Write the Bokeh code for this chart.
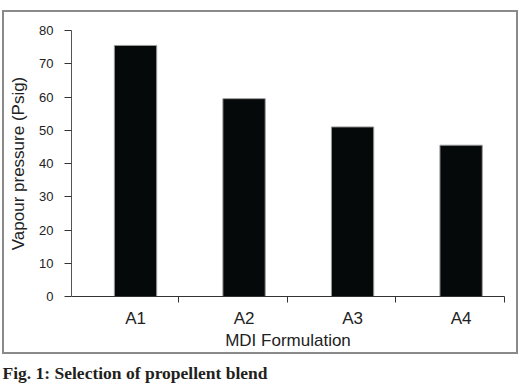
from bokeh.plotting import figure
from bokeh.models import ColumnDataSource, FixedTicker, Title
from bokeh.embed import file_html
from bokeh.resources import INLINE

# ---- data ----
categories = ["A1", "A2", "A3", "A4"]
pressure = [75.5, 59.5, 51.0, 45.5]
y_ticks = [0, 10, 20, 30, 40, 50, 60, 70, 80]
x_title = "MDI Formulation"
y_title = "Vapour pressure (Psig)"
caption = "Fig. 1: Selection of propellent blend"

positions = list(range(1, len(categories) + 1))
between = [p + 0.4 for p in positions]

src = ColumnDataSource(dict(x=positions, top=pressure, cat=categories))

FONT = "Liberation Sans"
TXT = "#222222"
GREY = "#8a8a8a"

# grey panel frame around the chart (drawn as the page element's background)
g = f"linear-gradient({GREY},{GREY})"
panel_css = {
    "background-image": ", ".join([g] * 4),
    "background-position": "2px 10px, 2px 352px, 2px 10px, 516px 10px",
    "background-size": "516px 2px, 516px 2px, 2px 344px, 2px 344px",
    "background-repeat": "no-repeat",
}

p = figure(width=520, height=390, x_range=(0.41, 4.4), y_range=(0, 80),
           output_backend="svg", toolbar_location=None,
           min_border_left=71, min_border_right=16, min_border_top=30,
           min_border_bottom=94, styles=panel_css)
p.outline_line_color = None
p.xgrid.visible = False
p.ygrid.visible = False
p.background_fill_color = None
p.border_fill_color = None

p.vbar(x="x", top="top", width=0.39, bottom=0, source=src,
       fill_color="#050909", line_color="#9a9a9a", line_width=1)

xa = p.xaxis[0]
xa.ticker = FixedTicker(ticks=positions, minor_ticks=between)
xa.major_label_overrides = {pos: c for pos, c in zip(positions, categories)}
xa.major_tick_line_color = None
xa.major_tick_out = 0
xa.major_tick_in = 0
xa.minor_tick_out = 6
xa.minor_tick_in = 0
xa.minor_tick_line_color = "#333333"
xa.axis_line_color = "#333333"
xa.major_label_standoff = 6
xa.major_label_text_font = FONT
xa.major_label_text_font_size = "17px"
xa.major_label_text_color = TXT
xa.axis_label = x_title
xa.axis_label_text_font = FONT
xa.axis_label_text_font_size = "17px"
xa.axis_label_text_font_style = "normal"
xa.axis_label_text_color = TXT
xa.axis_label_standoff = 0

ya = p.yaxis[0]
ya.ticker = FixedTicker(ticks=y_ticks)
ya.minor_tick_line_color = None
ya.major_tick_out = 7
ya.major_tick_in = 0
ya.major_tick_line_color = "#333333"
ya.axis_line_color = "#555555"
ya.major_label_standoff = 11
ya.major_label_text_font = FONT
ya.major_label_text_font_size = "13px"
ya.major_label_text_color = TXT
ya.axis_label = y_title
ya.axis_label_text_font = FONT
ya.axis_label_text_font_size = "17px"
ya.axis_label_text_font_style = "normal"
ya.axis_label_text_color = TXT
ya.axis_label_standoff = 8

p.add_layout(Title(text=caption, align="left", offset=-69, standoff=16,
                   text_font="Liberation Serif", text_font_style="bold",
                   text_font_size="17.5px", text_color="#231f20"), "below")

open("out.html", "w").write(file_html(p, INLINE))
